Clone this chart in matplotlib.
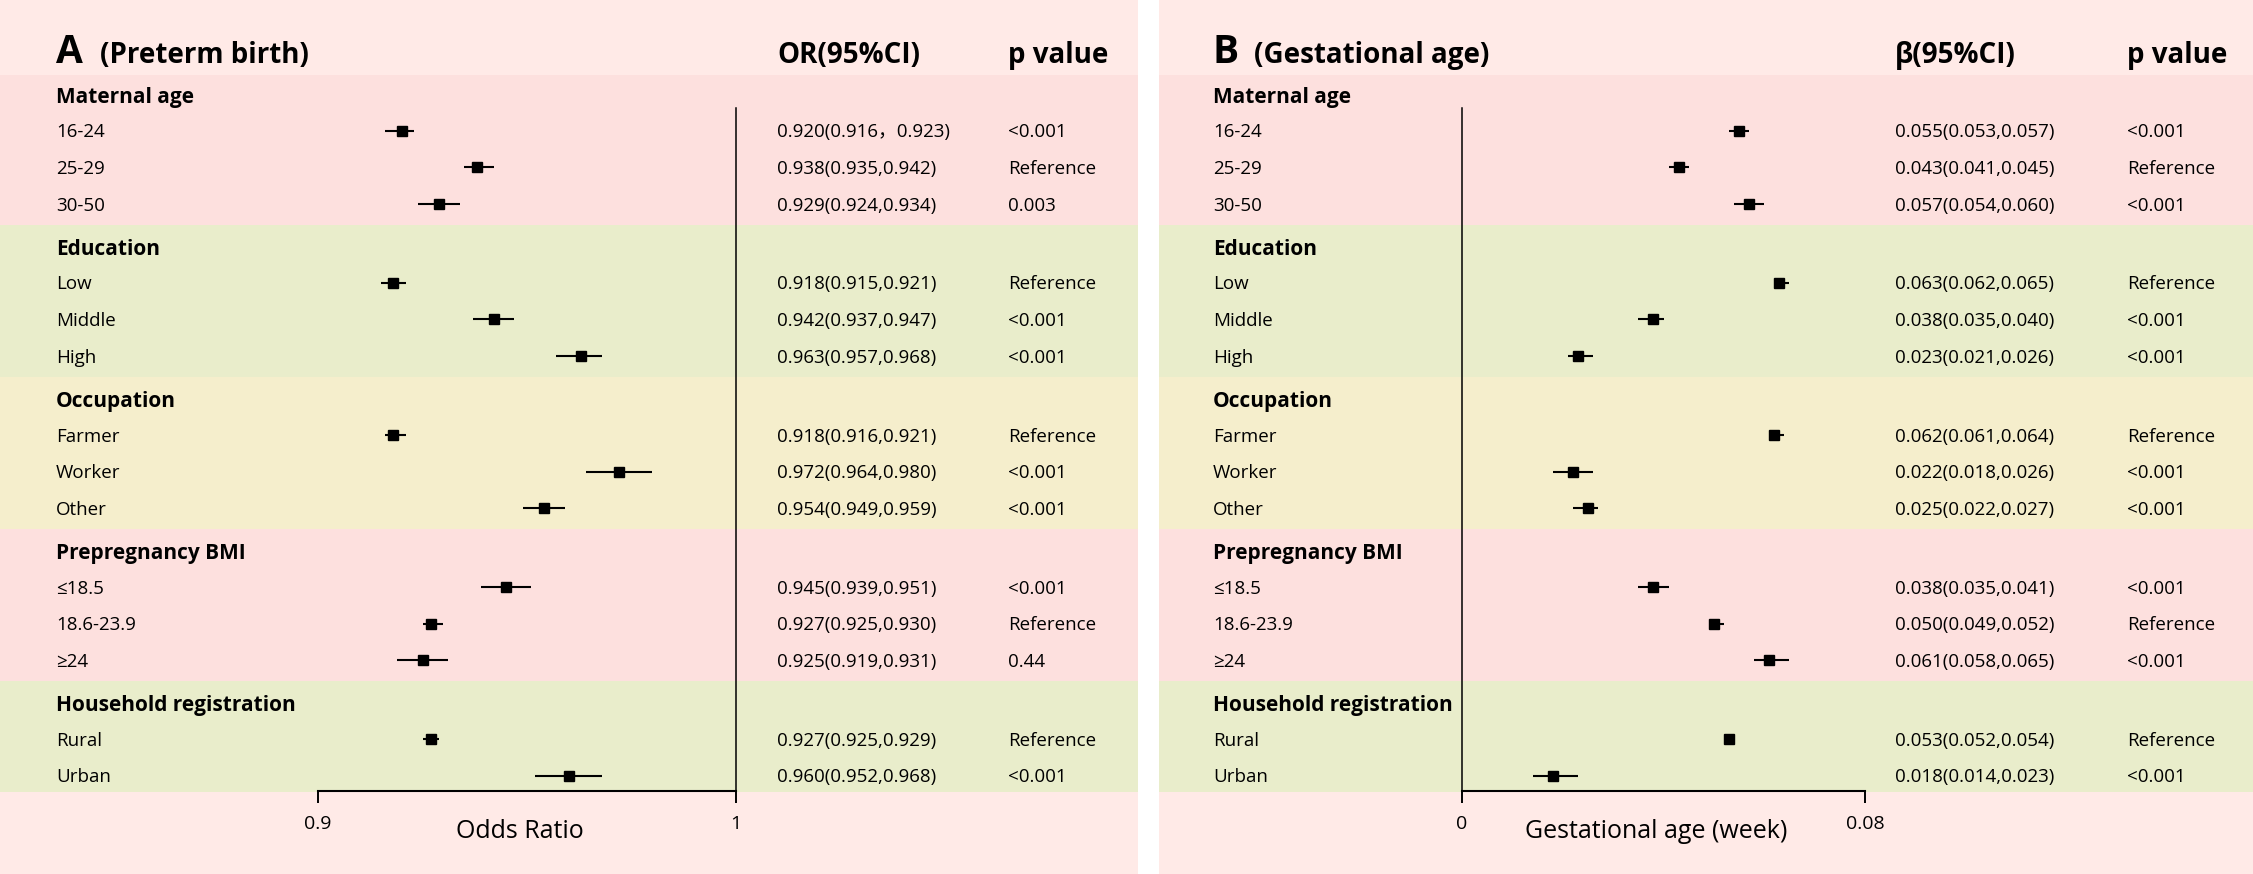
import matplotlib
matplotlib.use("Agg")
import matplotlib.pyplot as plt

plt.rcParams['font.family'] = ['Open Sans', 'Noto Sans CJK SC', 'DejaVu Sans']

# ---------------- data ----------------
sections = ["Maternal age", "Education", "Occupation", "Prepregnancy BMI", "Household registration"]
section_rows = [["16-24", "25-29", "30-50"],
                ["Low", "Middle", "High"],
                ["Farmer", "Worker", "Other"],
                ["≤18.5", "18.6-23.9", "≥24"],
                ["Rural", "Urban"]]

or_est = [0.920, 0.938, 0.929, 0.918, 0.942, 0.963, 0.918, 0.972, 0.954, 0.945, 0.927, 0.925, 0.927, 0.960]
or_lo = [0.916, 0.935, 0.924, 0.915, 0.937, 0.957, 0.916, 0.964, 0.949, 0.939, 0.925, 0.919, 0.925, 0.952]
or_hi = [0.923, 0.942, 0.934, 0.921, 0.947, 0.968, 0.921, 0.980, 0.959, 0.951, 0.930, 0.931, 0.929, 0.968]
or_text = ["0.920(0.916，0.923)", "0.938(0.935,0.942)", "0.929(0.924,0.934)",
           "0.918(0.915,0.921)", "0.942(0.937,0.947)", "0.963(0.957,0.968)",
           "0.918(0.916,0.921)", "0.972(0.964,0.980)", "0.954(0.949,0.959)",
           "0.945(0.939,0.951)", "0.927(0.925,0.930)", "0.925(0.919,0.931)",
           "0.927(0.925,0.929)", "0.960(0.952,0.968)"]
or_p = ["<0.001", "Reference", "0.003", "Reference", "<0.001", "<0.001",
        "Reference", "<0.001", "<0.001", "<0.001", "Reference", "0.44",
        "Reference", "<0.001"]

beta_est = [0.055, 0.043, 0.057, 0.063, 0.038, 0.023, 0.062, 0.022, 0.025, 0.038, 0.050, 0.061, 0.053, 0.018]
beta_lo = [0.053, 0.041, 0.054, 0.062, 0.035, 0.021, 0.061, 0.018, 0.022, 0.035, 0.049, 0.058, 0.052, 0.014]
beta_hi = [0.057, 0.045, 0.060, 0.065, 0.040, 0.026, 0.064, 0.026, 0.027, 0.041, 0.052, 0.065, 0.054, 0.023]
beta_text = ["0.055(0.053,0.057)", "0.043(0.041,0.045)", "0.057(0.054,0.060)",
             "0.063(0.062,0.065)", "0.038(0.035,0.040)", "0.023(0.021,0.026)",
             "0.062(0.061,0.064)", "0.022(0.018,0.026)", "0.025(0.022,0.027)",
             "0.038(0.035,0.041)", "0.050(0.049,0.052)", "0.061(0.058,0.065)",
             "0.053(0.052,0.054)", "0.018(0.014,0.023)"]
beta_p = ["<0.001", "Reference", "<0.001", "Reference", "<0.001", "<0.001",
          "Reference", "<0.001", "<0.001", "<0.001", "Reference", "<0.001",
          "Reference", "<0.001"]

# ---------------- layout (pixels) ----------------
W, H = 2253, 874
PT = 0.72  # points per pixel at dpi 100
ROW0, U, G = 94.0, 36.7, 5.3
TOP_BAND, BOTTOM_BAND = 75.0, 792.0
HEAD_COL = "#FFEAE7"
SEC_COLS = ["#FDE0DE", "#E9EDCB", "#F5EECC", "#FDE0DE", "#E9EDCB"]

FS_LETTER, FS_TITLE, FS_SEC, FS_ROW, FS_TICK, FS_XLAB = 28, 20, 15, 13.5, 14, 18

# row positions
header_y = []
item_y = []
r = 0
for s, rows in enumerate(section_rows):
    header_y.append(ROW0 + r * U + s * G)
    r += 1
    for _ in rows:
        item_y.append(ROW0 + r * U + s * G)
        r += 1

# band boundaries
bounds = [TOP_BAND]
idx = 0
for s, rows in enumerate(section_rows):
    idx += len(rows)
    if s < len(section_rows) - 1:
        bounds.append((item_y[idx - 1] + header_y[s + 1]) / 2)
bounds.append(BOTTOM_BAND)


def base(y, fs):
    # baseline so that cap-height centre sits on y
    return y + 0.357 * fs / PT


panels = [
    dict(x0=0, x1=1138, lx=56, letter="A", title="(Preterm birth)", tx=100,
         head1="OR(95%CI)", c1=777, c2=1008, al=318, ar=736, xlim=(0.9, 1.0),
         ticks=[0.9, 1.0], tlabels=["0.9", "1"], xlabel="Odds Ratio", xlx=520,
         ref="right", est=or_est, lo=or_lo, hi=or_hi, text=or_text, p=or_p),
    dict(x0=1159, x1=2253, lx=1213, letter="B", title="(Gestational age)", tx=1254,
         head1="β(95%CI)", c1=1895, c2=2127, al=1462, ar=1865, xlim=(0.0, 0.08),
         ticks=[0.0, 0.08], tlabels=["0", "0.08"], xlabel="Gestational age (week)", xlx=1656,
         ref="left", est=beta_est, lo=beta_lo, hi=beta_hi, text=beta_text, p=beta_p),
]

fig = plt.figure(figsize=(W / 100, H / 100), dpi=100, facecolor="white")
bg = fig.add_axes([0, 0, 1, 1])
bg.set_xlim(0, W)
bg.set_ylim(H, 0)
bg.axis("off")

AX_TOP, AX_BOT = 108.0, 791.0

for P in panels:
    xmin, xmax = P["x0"] / W, P["x1"] / W
    bg.axhspan(0, TOP_BAND, xmin=xmin, xmax=xmax, color=HEAD_COL, lw=0)
    bg.axhspan(BOTTOM_BAND, H, xmin=xmin, xmax=xmax, color=HEAD_COL, lw=0)
    for s in range(len(sections)):
        bg.axhspan(bounds[s], bounds[s + 1], xmin=xmin, xmax=xmax, color=SEC_COLS[s], lw=0)

    # titles
    bg.text(P["lx"], 63, P["letter"], fontsize=FS_LETTER, fontweight="bold", va="baseline", ha="left")
    bg.text(P["tx"], 63, P["title"], fontsize=FS_TITLE, fontweight="bold", va="baseline", ha="left")
    bg.text(P["c1"], 63, P["head1"], fontsize=FS_TITLE, fontweight="bold", va="baseline", ha="left")
    bg.text(P["c2"], 63, "p value", fontsize=FS_TITLE, fontweight="bold", va="baseline", ha="left")

    for s, name in enumerate(sections):
        bg.text(P["lx"], base(header_y[s], FS_SEC) + 1.5, name, fontsize=FS_SEC, fontweight="bold",
                va="baseline", ha="left")
    labels = [lab for rows in section_rows for lab in rows]
    for i, lab in enumerate(labels):
        yb = base(item_y[i], FS_ROW)
        bg.text(P["lx"], yb, lab, fontsize=FS_ROW, va="baseline", ha="left")
        bg.text(P["c1"], yb, P["text"][i], fontsize=FS_ROW, va="baseline", ha="left")
        bg.text(P["c2"], yb, P["p"][i], fontsize=FS_ROW, va="baseline", ha="left")

    # forest axes
    ax = fig.add_axes([P["al"] / W, 1 - AX_BOT / H, (P["ar"] - P["al"]) / W, (AX_BOT - AX_TOP) / H])
    ax.set_facecolor("none")
    ax.set_xlim(*P["xlim"])
    ax.set_ylim(AX_BOT, AX_TOP)
    for sp in ["top", "left", "right"]:
        ax.spines[sp].set_visible(False)
    ax.spines[P["ref"]].set_visible(True)
    ax.spines[P["ref"]].set_linewidth(1.1)
    ax.spines["bottom"].set_linewidth(1.5)
    ax.set_yticks([])
    ax.set_xticks(P["ticks"])
    ax.set_xticklabels(P["tlabels"])
    ax.tick_params(axis="x", direction="out", length=8.5, width=1.4, pad=8.5, labelsize=FS_TICK)
    ax.set_xlabel(P["xlabel"], fontsize=FS_XLAB)
    ax.xaxis.label.set_va("center")
    ax.xaxis.set_label_coords((P["xlx"] - P["al"]) / (P["ar"] - P["al"]),
                              (AX_BOT - 831) / (AX_BOT - AX_TOP))
    est = P["est"]
    xerr = [[e - l for e, l in zip(est, P["lo"])], [h - e for e, h in zip(est, P["hi"])]]
    ax.errorbar(est, item_y, xerr=xerr, fmt="s", ms=7.2, color="black", ecolor="black",
                elinewidth=1.5, capsize=0, clip_on=False)

fig.savefig("out.png", dpi=100, facecolor="white")
